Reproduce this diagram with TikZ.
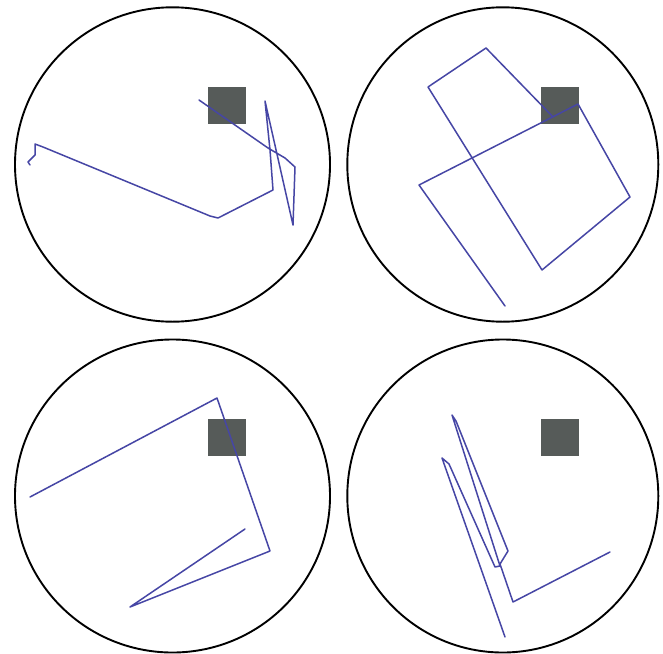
\documentclass[tikz,border=0pt]{standalone}
\definecolor{trackblue}{RGB}{70,70,165}
\definecolor{targetgray}{RGB}{86,91,89}
\tikzset{
  arena/.style={draw=black, line width=1.9pt},
  target/.style={fill=targetgray, draw=none},
  track/.style={draw=trackblue, line width=1.5pt, line join=round, line cap=round},
}
\begin{document}
\begin{tikzpicture}[x=1pt,y=-1pt]
\useasboundingbox (0,0) rectangle (663,653);
\fill[white] (0,0) rectangle (663,653);
% arenas
\draw[arena] (172.5,164.5) ellipse [x radius=157.5, y radius=157.2];
\draw[arena] (502.8,164.5) ellipse [x radius=155.5, y radius=157.2];
\draw[arena] (172.5,496) ellipse [x radius=157.5, y radius=156.5];
\draw[arena] (502.8,496) ellipse [x radius=155.5, y radius=156.5];
% targets
\fill[target] (208,87) rectangle (246,124);
\fill[target] (541,87) rectangle (579,124);
\fill[target] (208,419) rectangle (246,456);
\fill[target] (541,419) rectangle (579,456);
% tracks
\draw[track] (199,100) -- (268,148) -- (285,158) -- (295,167) -- (293,225) -- (265,101)
  -- (270,150) -- (273,190) -- (218,218) -- (210,216) -- (43,147) -- (35,144)
  -- (35,155) -- (28,162) -- (30,165);
\draw[track] (505,306) -- (419,185) -- (578,104) -- (630,197) -- (542,270)
  -- (428,87) -- (486,48) -- (553,117);
\draw[track] (30,497) -- (217,398) -- (270,551) -- (130,607) -- (245,529);
\draw[track] (505,637) -- (442,458) -- (449,464) -- (495,567) -- (500,566) -- (452,415)
  -- (456,421) -- (508,551) -- (500,564) -- (513,602) -- (610,552);
\end{tikzpicture}
\end{document}
